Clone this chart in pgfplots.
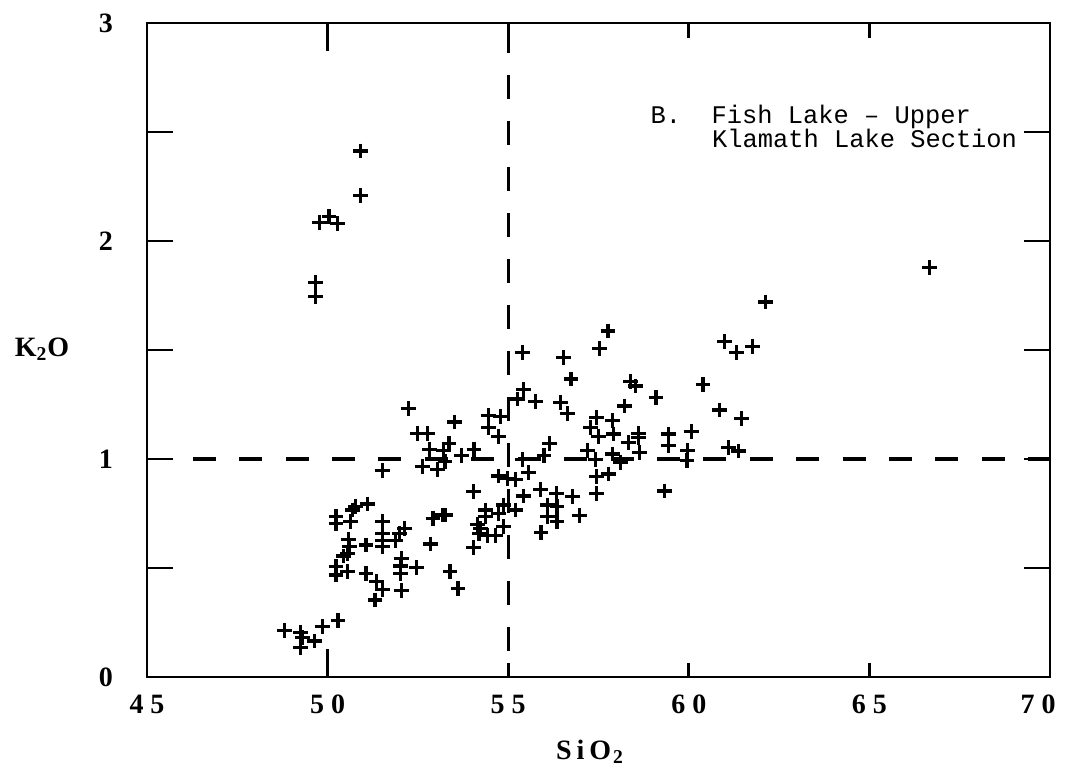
\documentclass[border=0pt]{standalone}
\usepackage{fontspec}
\setmainfont{Liberation Serif}
\setmonofont{Liberation Mono}
\usepackage{pgfplots}
\pgfplotsset{compat=1.18}
\newcommand\ticklab[1]{\mbox{\fontsize{14}{16}\selectfont\bfseries #1}}

\begin{document}
\begin{tikzpicture}
\begin{axis}[
  scale only axis,
  width=451.5pt, height=327pt,
  xmin=45, xmax=70, ymin=0, ymax=3,
  axis line style={line width=1.4pt},
  tick align=inside,
  major tick length=13pt,
  every tick/.style={black, line width=1.4pt},
  xtick={45,50,...,70},
  xticklabels={\ticklab{4 5},\ticklab{5 0},\ticklab{5 5},\ticklab{6 0},\ticklab{6 5},\ticklab{7 0}\hspace*{12pt}},
  xtick style={draw=none},
  ytick={0,0.5,...,3},
  yticklabels={\ticklab{0},,\ticklab{1},,\ticklab{2},,\ticklab{3}},
  xticklabel style={yshift=-5.5pt},
  yticklabel style={xshift=-13.5pt},
  xlabel={\textbf{S\hspace{2.5pt}i\hspace{2.5pt}O\hspace{1pt}\textsubscript{2}}},
  ylabel={\textbf{K\textsubscript{2}O}},
  label style={font=\fontsize{14}{16}\selectfont},
  xlabel style={at={(rel axis cs:0.4906,-0.1147)}, anchor=center},
  ylabel style={rotate=-90, at={(rel axis cs:-0.1163,0.5015)}, anchor=center},
  clip=false,
]
\coordinate (bl) at (rel axis cs:-0.1628,-0.1437);
\coordinate (tr) at (rel axis cs:1.0354,1.0352);

% x tick marks: long at 50, short elsewhere
\draw[line width=1.4pt] (axis cs:50,0) -- ++(0pt,14pt);
\draw[line width=1.4pt] (axis cs:50,3) -- ++(0pt,-14pt);
\draw[line width=1.4pt] (axis cs:55,0) -- ++(0pt,7pt);
\draw[line width=1.4pt] (axis cs:55,3) -- ++(0pt,-7.5pt);
\draw[line width=1.4pt] (axis cs:60,0) -- ++(0pt,7pt);
\draw[line width=1.4pt] (axis cs:60,3) -- ++(0pt,-7.5pt);
\draw[line width=1.4pt] (axis cs:65,0) -- ++(0pt,7pt);
\draw[line width=1.4pt] (axis cs:65,3) -- ++(0pt,-7.5pt);

% reference lines
\addplot[black, line width=1.6pt, dash pattern=on 11.5pt off 11.7pt]
  coordinates {(46.27,1) (70,1)};
\addplot[black, line width=1.6pt, dash pattern=on 12pt off 11pt]
  coordinates {(55,0.12) (55,3)};

\addplot[only marks, mark=+, mark size=3.7pt, black, line width=1.6pt]
coordinates {
  (48.80,0.215) (49.24,0.205) (49.30,0.180) (49.63,0.165) (49.26,0.135)
  (49.85,0.232) (50.29,0.261)
  (50.23,0.735) (50.23,0.704) (50.69,0.766) (50.64,0.712) (50.78,0.784)
  (51.10,0.794) (50.23,0.506) (50.23,0.468) (50.55,0.483) (51.06,0.476)
  (50.57,0.632) (50.60,0.598) (50.55,0.567) (50.44,0.555) (51.06,0.606)
  (51.53,0.712) (51.53,0.660) (51.53,0.628) (51.53,0.598) (51.36,0.437)
  (51.52,0.400) (51.31,0.353) (52.12,0.682) (51.98,0.660) (51.87,0.628)
  (52.05,0.544) (52.02,0.509) (52.02,0.476) (52.04,0.396) (52.45,0.503)
  (52.85,0.610) (52.92,0.728) (53.18,0.743) (53.26,0.743) (53.39,0.483)
  (53.61,0.407)
  (51.53,0.946) (52.23,1.232) (52.48,1.118) (52.76,1.118) (52.83,1.045)
  (53.20,1.040) (53.36,1.070) (53.52,1.170) (53.70,1.018) (54.05,1.045)
  (52.62,0.965) (53.05,0.952) (53.25,0.990)
  (54.45,1.200) (54.79,1.194) (54.45,1.145) (54.74,1.105) (55.25,1.275)
  (55.76,1.263) (55.43,1.320) (55.39,1.488) (54.03,0.850) (54.73,0.922)
  (54.97,0.911) (55.20,0.906) (55.57,0.937) (55.39,0.998) (55.43,0.830)
  (54.88,0.789) (55.20,0.766) (54.74,0.750) (54.38,0.766) (54.38,0.735)
  (54.15,0.700) (54.24,0.680) (54.19,0.660) (54.42,0.650) (54.65,0.650)
  (54.88,0.690) (54.03,0.595)
  (55.90,0.861) (55.99,1.018) (56.15,1.072) (56.08,0.789) (56.35,0.781)
  (56.08,0.735) (56.35,0.712) (55.91,0.662) (56.34,0.843) (56.77,0.827)
  (56.97,0.740) (56.45,1.258) (56.63,1.210) (56.52,1.466) (56.74,1.367)
  (57.53,1.508) (57.76,1.587) (57.20,1.038) (57.42,0.998) (57.44,1.191)
  (57.28,1.146) (57.51,1.105) (57.88,1.176) (57.92,1.115) (57.88,1.023)
  (58.11,0.985) (57.44,0.919) (57.78,0.931) (57.44,0.843)
  (58.38,1.355) (58.52,1.335) (58.22,1.243) (59.09,1.282) (58.61,1.118)
  (58.61,1.100) (58.32,1.075) (58.64,1.029) (59.44,1.115) (59.44,1.061)
  (60.07,1.125) (59.97,1.038) (59.95,0.995) (59.32,0.853) (60.39,1.343)
  (60.85,1.225) (61.46,1.187) (61.10,1.054) (61.38,1.037) (60.99,1.538)
  (61.33,1.489) (61.77,1.518) (62.12,1.720) (66.66,1.879)
  (50.92,2.413) (50.92,2.208) (49.78,2.084) (50.04,2.112) (50.27,2.081)
  (49.67,1.810) (49.67,1.745)
};

\node[anchor=base west, font=\ttfamily\fontsize{12.7}{12}\selectfont]
  at (axis cs:58.75,2.541) {B.\ \ Fish Lake – Upper};
\node[anchor=base west, font=\ttfamily\fontsize{12.7}{12}\selectfont]
  at (axis cs:60.45,2.431) {Klamath Lake Section};
\end{axis}
\pgfresetboundingbox
\path[use as bounding box] (bl) rectangle (tr);
\end{tikzpicture}
\end{document}
